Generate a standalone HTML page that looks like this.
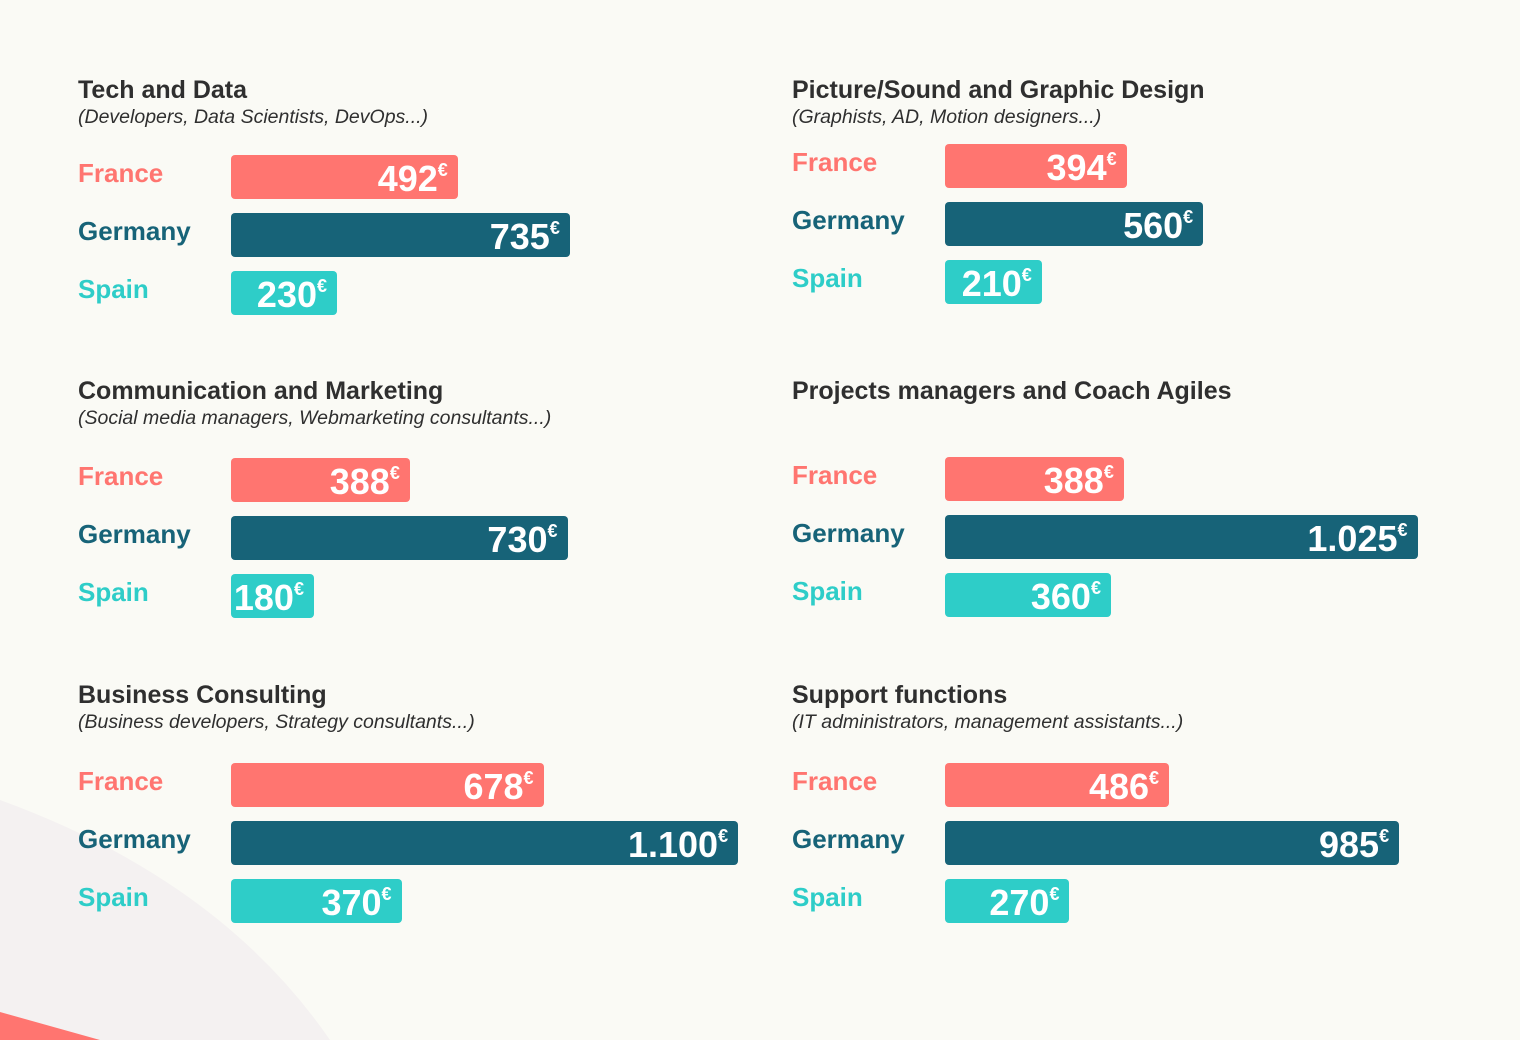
<!DOCTYPE html>
<html><head><meta charset="utf-8"><style>
body{margin:0;width:1520px;height:1040px;background:#fafaf5;position:relative;overflow:hidden;font-family:"Liberation Sans",sans-serif;}
.title{position:absolute;font-weight:bold;font-size:25px;color:#2f2f2f;}
.sub{position:absolute;font-style:italic;font-size:19.5px;color:#2f2f2f;}
.lab{position:absolute;font-weight:bold;font-size:26px;}
.bar{position:absolute;height:44px;border-radius:4px;color:#fff;font-weight:bold;font-size:36px;text-align:right;box-sizing:border-box;padding-right:10px;line-height:48px;white-space:nowrap;}
.bar sup{font-size:18px;vertical-align:top;line-height:30px;}
</style></head><body>
<svg style="position:absolute;left:0;top:0" width="1520" height="1040">
<path d="M0 800 Q220 880 330 1040 L0 1040 Z" fill="#f4f1f1"/>
<path d="M0 1012 L100 1040 L0 1040 Z" fill="#ff7570"/>
</svg>
<div id="root"></div>
<script>
const categories=["Tech and Data","Picture/Sound and Graphic Design","Communication and Marketing","Projects managers and Coach Agiles","Business Consulting","Support functions"];
const subtitles=["(Developers, Data Scientists, DevOps...)","(Graphists, AD, Motion designers...)","(Social media managers, Webmarketing consultants...)","","(Business developers, Strategy consultants...)","(IT administrators, management assistants...)"];
const countries=["France","Germany","Spain"];
const franceValues=[492,394,388,388,678,486];
const germanyValues=[735,560,730,1025,1100,985];
const spainValues=[230,210,180,360,370,270];
const colors=["#ff7570","#176378","#2ecdc8"];
const panelX=[78,792,78,792,78,792];
const titleY=[76,76,377,377,681,681];
const barY0=[155,144,458,457,763,763];
const scale=v=>v*0.461;
const fmt=v=>v>=1000?Math.floor(v/1000)+"."+String(v%1000).padStart(3,"0"):String(v);
const root=document.getElementById('root');
categories.forEach((c,i)=>{
  const t=document.createElement('div');t.className='title';
  
  
  t.style.left=panelX[i]+'px';t.style.top=titleY[i]+'px';t.textContent=c;root.appendChild(t);
  if(subtitles[i]){const s=document.createElement('div');s.className='sub';
  
  
  s.style.left=panelX[i]+'px';s.style.top=(titleY[i]+30)+'px';s.textContent=subtitles[i];root.appendChild(s);}
  const vals=[franceValues[i],germanyValues[i],spainValues[i]];
  countries.forEach((k,j)=>{
    const y=barY0[i]+j*58;
    const l=document.createElement('div');l.className='lab';
    
    
    l.style.left=panelX[i]+'px';l.style.top=(y+3)+'px';l.style.color=colors[j];l.textContent=k;root.appendChild(l);
    const b=document.createElement('div');b.className='bar';
    
    
    b.style.left=(panelX[i]+153)+'px';b.style.top=y+'px';b.style.width=scale(vals[j])+'px';b.style.background=colors[j];
    b.innerHTML=fmt(vals[j])+'<sup>€</sup>';root.appendChild(b);
  });
});
</script>
</body></html>
